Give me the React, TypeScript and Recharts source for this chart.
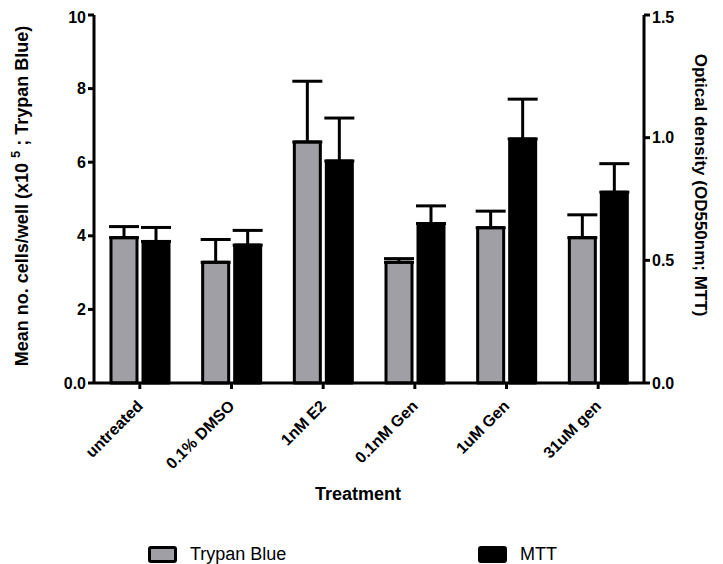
import React from 'react'
import { BarChart, Bar, XAxis, YAxis, ErrorBar } from 'recharts'

// treatments along the x axis
const categories = ['untreated', '0.1% DMSO', '1nM E2', '0.1nM Gen', '1uM Gen', '31uM gen']

// Trypan Blue: mean no. cells/well (x10^5), left axis
const trypanBlue = [3.95, 3.28, 6.55, 3.28, 4.22, 3.95]
const trypanBlueErr = [0.3, 0.62, 1.65, 0.1, 0.45, 0.62]

// MTT: optical density (OD550nm), right axis
const mtt = [0.577, 0.562, 0.905, 0.65, 0.995, 0.778]
const mttErr = [0.057, 0.06, 0.175, 0.072, 0.162, 0.116]

const leftTicks = [0, 2, 4, 6, 8, 10]
const rightTicks = [0, 0.5, 1.0, 1.5]

const seriesNames = ['Trypan Blue', 'MTT']
const GREY = '#a19fa6'
const FONT = "'Liberation Sans', Arial, sans-serif"

const data = categories.map((name, i) => ({
    name,
    trypan: trypanBlue[i],
    trypanErr: [0, trypanBlueErr[i]],
    mtt: mtt[i],
    mttErr: [0, mttErr[i]],
}))

const XTick = ({ x, y, payload }: any) => {
    const ax = x + 4
    const ay = y + 16
    return (
        <text x={ax} y={ay} textAnchor="end" fontFamily={FONT} fontWeight="bold" fontSize={16} fill="#000"
            transform={`rotate(-45, ${ax}, ${ay})`}>
            {payload.value}
        </text>
    )
}

const LeftTitle = () => (
    <text x={14} y={188} transform="rotate(-90, 14, 188)" textAnchor="middle" dominantBaseline="central"
        fontFamily={FONT} fontWeight="bold" fontSize={18} fill="#000">
        Mean no. cells/well (x10 <tspan fontSize={13} dy={-7}>5</tspan><tspan dy={7}> ; Trypan Blue)</tspan>
    </text>
)

const RightTitle = () => (
    <text x={692} y={177} transform="rotate(90, 692, 177)" textAnchor="middle" dominantBaseline="central"
        fontFamily={FONT} fontWeight="bold" fontSize={17} fill="#000">
        Optical density (OD550nm; MTT)
    </text>
)

const XTitle = () => (
    <text x={350} y={492} textAnchor="middle" fontFamily={FONT} fontWeight="bold" fontSize={18} fill="#000">
        Treatment
    </text>
)

const tickStyle = { fontFamily: FONT, fontWeight: 'bold', fontSize: 16, fill: '#000' }
const lineStyle = { stroke: '#000', strokeWidth: 3 }

export default function App() {
    return (
        <div style={{ position: 'relative', width: 715, height: 556 }}>
            <BarChart width={715} height={556} data={data} barSize={26} barGap={6}
                margin={{ top: 7, right: 0, bottom: 81, left: 0 }}>
                <XAxis dataKey="name" interval={0} tick={<XTick />} tickSize={6}
                    axisLine={lineStyle} tickLine={lineStyle} height={100} label={<XTitle />} />
                <YAxis yAxisId="left" domain={[0, 10]} ticks={leftTicks} width={86} tickSize={6} tickMargin={2}
                    tickFormatter={(v: number) => (v === 0 ? '0.0' : String(v))}
                    tick={tickStyle} axisLine={lineStyle} tickLine={lineStyle} label={<LeftTitle />} />
                <YAxis yAxisId="right" orientation="right" domain={[0, 1.5]} ticks={rightTicks} width={79}
                    tickSize={6} tickMargin={2} tickFormatter={(v: number) => v.toFixed(1)}
                    tick={tickStyle} axisLine={lineStyle} tickLine={lineStyle} label={<RightTitle />} />
                <Bar yAxisId="left" dataKey="trypan" name={seriesNames[0]} fill={GREY} stroke="#000"
                    strokeWidth={3} strokeLinejoin="round" isAnimationActive={false}>
                    <ErrorBar dataKey="trypanErr" width={15} stroke="#000" strokeWidth={3} direction="y" />
                </Bar>
                <Bar yAxisId="right" dataKey="mtt" name={seriesNames[1]} fill="#000" stroke="#000"
                    strokeWidth={3} strokeLinejoin="round" isAnimationActive={false}>
                    <ErrorBar dataKey="mttErr" width={15} stroke="#000" strokeWidth={3} direction="y" />
                </Bar>
            </BarChart>
            {/* legend */}
            {seriesNames.map((n, i) => (
                <div key={n} style={{
                    position: 'absolute', left: i === 0 ? 140 : 470, top: 536, display: 'flex',
                    alignItems: 'center', fontFamily: FONT, fontSize: 18, color: '#000',
                }}>
                    <span style={{
                        display: 'inline-block', width: 23, height: 11, border: '3px solid #000', borderRadius: 3,
                        background: i === 0 ? GREY : '#000', marginRight: 13,
                    }} />
                    {n}
                </div>
            ))}
        </div>
    )
}
